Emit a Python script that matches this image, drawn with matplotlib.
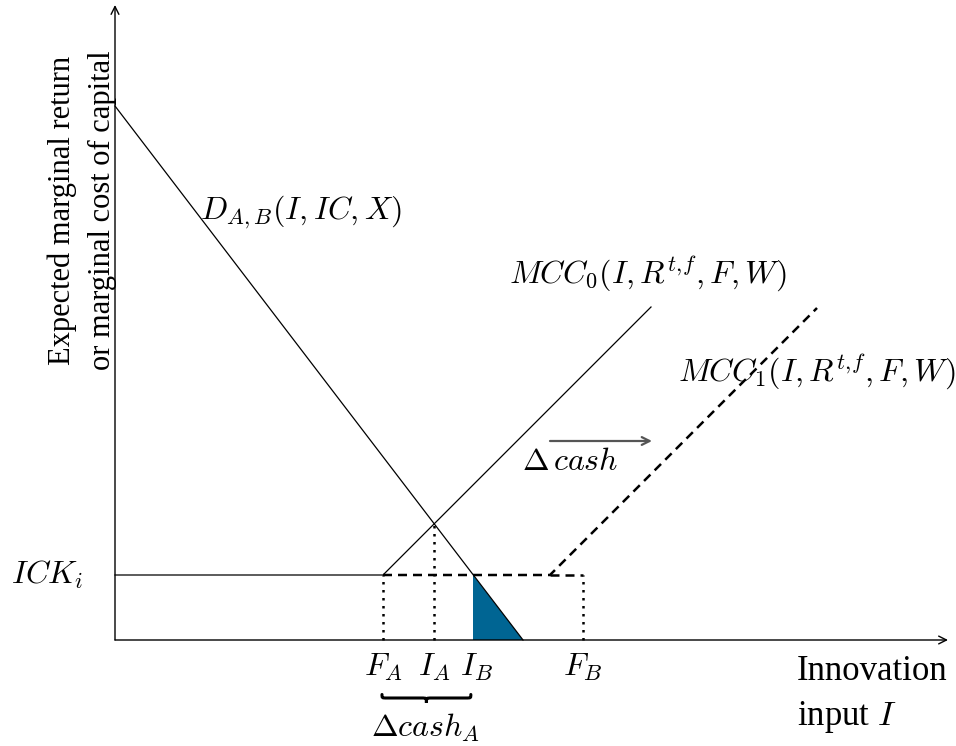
import numpy as np
import matplotlib.pyplot as plt
from matplotlib.path import Path
from matplotlib.patches import PathPatch, Polygon

plt.rcParams['mathtext.fontset'] = 'cm'
plt.rcParams['font.family'] = ['Liberation Serif', 'DejaVu Serif']

# model values (arbitrary units, origin at the axes corner)
ick = 1.3            # internal cost of capital, flat part of MCC
f_a = 5.36           # end of internal funds, firm A
f_b = 9.36           # end of internal funds, firm B
d_top = 10.68        # demand intercept on the y axis
d_end = 8.16         # demand intercept on the x axis
mcc_slope = 1.0
mcc0_end = 10.72     # where MCC0 stops
mcc1_kink = 8.7      # where MCC1 starts rising
mcc1_end = 14.04
x_max = 16.66        # axis lengths
y_max = 12.7

d_slope = -d_top / d_end
# intersections
i_b = (ick - d_top) / d_slope
i_a = (d_top - ick + mcc_slope * f_a) / (mcc_slope - d_slope)
y_ia = d_top + d_slope * i_a

fig = plt.figure(figsize=(9.56, 7.46), dpi=100)
ax = fig.add_axes([0, 0, 1, 1])
ax.set_xlim(-2.3, 16.82)
ax.set_ylim(-2.12, 12.8)
ax.axis('off')

# axes with arrows
arr = dict(arrowstyle='->', lw=1.0, color='black', shrinkA=0, shrinkB=0,
           mutation_scale=14)
ax.annotate('', xy=(x_max, 0), xytext=(0, 0), arrowprops=arr)
ax.annotate('', xy=(0, y_max), xytext=(0, 0), arrowprops=arr)

# demand curve
ax.plot([0, d_end], [d_top, 0], color='black', lw=0.9)
# MCC0: flat then rising
ax.plot([0, f_a, mcc0_end], [ick, ick, ick + mcc_slope * (mcc0_end - f_a)],
        color='black', lw=0.9)
# MCC1 dashed
dash = dict(color='black', lw=1.8, ls=(0, (3.6, 2.4)))
ax.plot([f_a, mcc1_kink, mcc1_end],
        [ick, ick, ick + mcc_slope * (mcc1_end - mcc1_kink)], **dash)
ax.plot([mcc1_kink, f_b], [ick, ick], **dash)

# dotted drop lines
dot = dict(color='black', lw=1.8, ls=(0, (1, 2.2)))
ax.plot([f_a, f_a], [0, ick], **dot)
ax.plot([i_a, i_a], [0, y_ia], **dot)
ax.plot([f_b, f_b], [0, ick], **dot)

# shaded triangle
ax.add_patch(Polygon([(i_b, ick), (i_b, 0), (d_end, 0)], closed=True,
                     facecolor='#006593', edgecolor='none'))

# delta cash arrow
ax.annotate('', xy=(10.74, 3.98), xytext=(8.7, 3.98),
            arrowprops=dict(arrowstyle='->', lw=1.6, color='#555555',
                            shrinkA=0, shrinkB=0, mutation_scale=14))
ax.text(9.1, 3.56, r'$\Delta\,cash$', fontsize=23, ha='center', va='center')

# curve labels
ax.text(3.72, 8.56, r'$D_{A,B}(I, IC, X)$', fontsize=23, ha='center', va='center')
ax.text(10.66, 7.34, r'$MCC_0(I, R^{t,\!f}, F, W)$', fontsize=23,
        ha='center', va='center')
ax.text(14.04, 5.38, r'$MCC_1(I, R^{t,\!f}, F, W)$', fontsize=23,
        ha='center', va='center')
ax.text(-0.62, ick, r'$ICK_i$', fontsize=23, ha='right', va='center')

# x tick labels
tick_pos = [f_a, i_a, i_b + 0.06, f_b]
tick_txt = [r'$F_A$', r'$I_A$', r'$I_B$', r'$F_B$']
for xp, t in zip(tick_pos, tick_txt):
    ax.text(xp, -0.54, t, fontsize=23, ha='center', va='center')

# curly brace under F_A .. I_B
x0, x1 = f_a - 0.02, i_b - 0.05
xm = (x0 + x1) / 2
y0, y1, y2 = -1.09, -1.16, -1.26
a = 0.1
verts = [(x0, y0), (x0, y1), (x0, y1), (x0 + a, y1),
         (xm - a, y1),
         (xm, y1), (xm, y1), (xm, y2),
         (xm, y1), (xm, y1), (xm + a, y1),
         (x1 - a, y1),
         (x1, y1), (x1, y1), (x1, y0)]
codes = [Path.MOVETO, Path.CURVE4, Path.CURVE4, Path.CURVE4,
         Path.LINETO,
         Path.CURVE4, Path.CURVE4, Path.CURVE4,
         Path.CURVE4, Path.CURVE4, Path.CURVE4,
         Path.LINETO,
         Path.CURVE4, Path.CURVE4, Path.CURVE4]
ax.add_patch(PathPatch(Path(verts, codes), facecolor='none',
                       edgecolor='black', lw=2.2, capstyle='round'))
ax.text(6.2, -1.76, r'$\Delta cash_A$', fontsize=23, ha='center', va='center')

# axis titles
ax.text(13.64, -1.1, 'Innovation\ninput $I$', fontsize=25, ha='left',
        va='center', linespacing=1.45)
ax.text(-0.66, 8.6, 'Expected marginal return\nor marginal cost of capital',
        fontsize=22, rotation=90, ha='center', va='center', ma='center',
        linespacing=1.5)

fig.savefig('out.png', dpi=100, facecolor='white')
